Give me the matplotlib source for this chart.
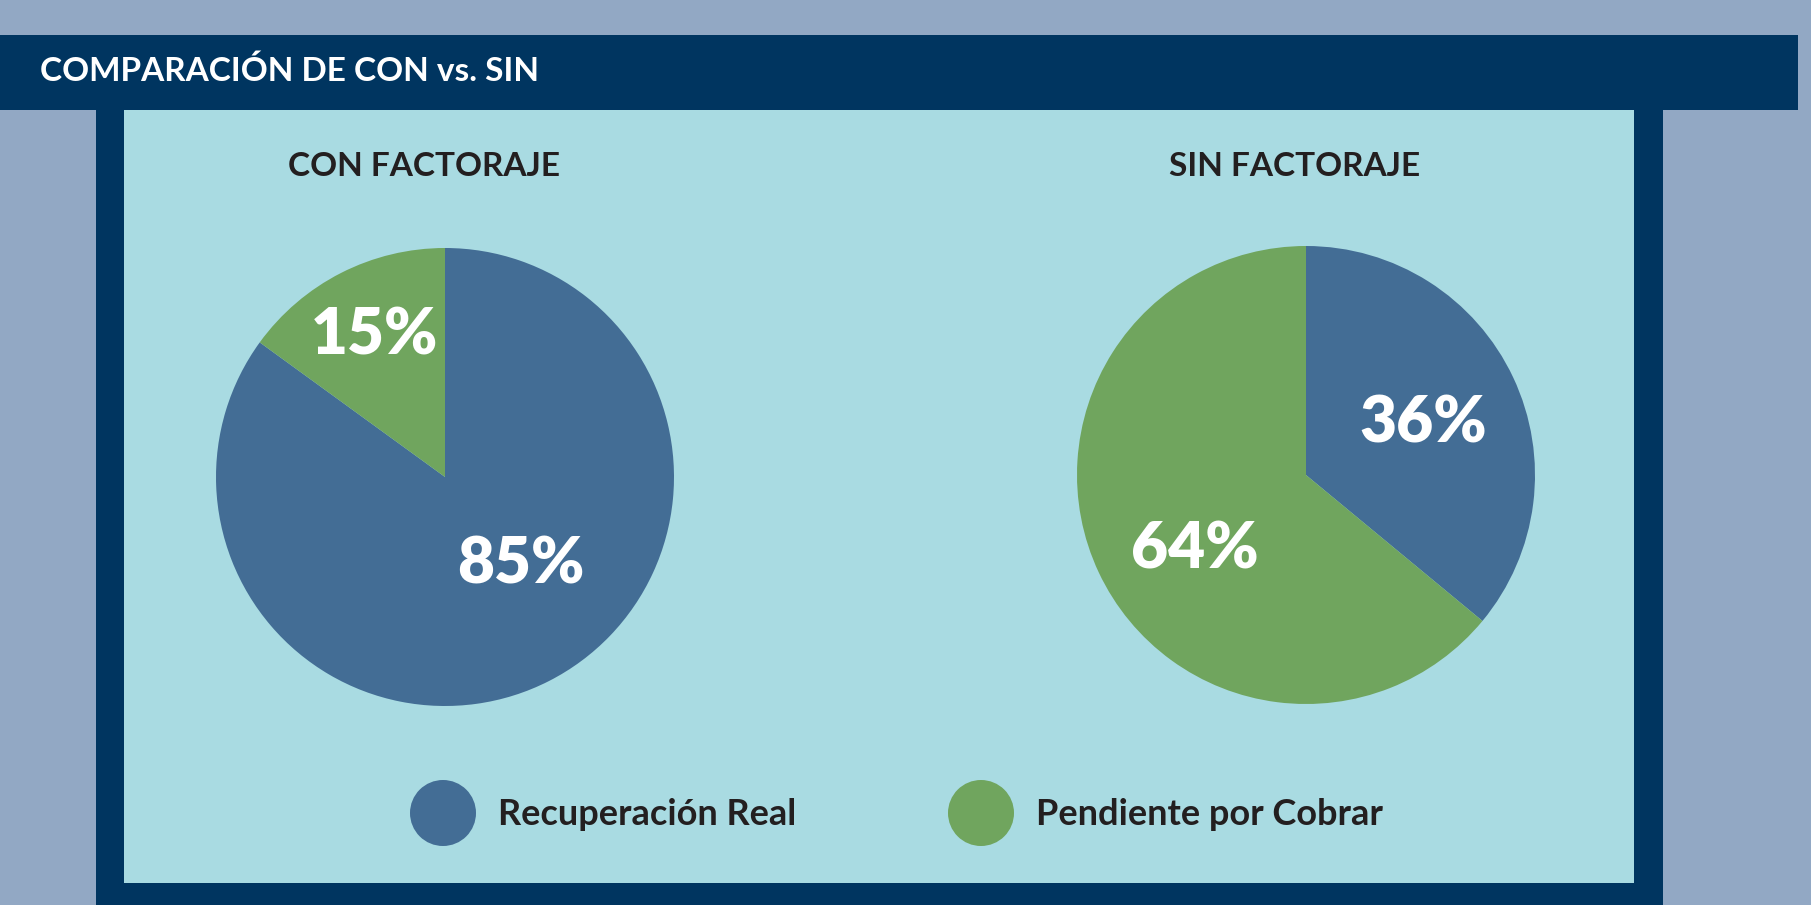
import matplotlib
matplotlib.use("Agg")
from matplotlib import pyplot as plt
from matplotlib.patches import Rectangle, Circle

# data
categories = ["Recuperación Real", "Pendiente por Cobrar"]
con_factoraje = [85, 15]
sin_factoraje = [36, 64]
pie_titles = ["CON FACTORAJE", "SIN FACTORAJE"]
header = "COMPARACIÓN DE CON vs. SIN"

colors = ["#436D95", "#70A55E"]
navy = "#003560"
bg = "#92A8C4"
panel = "#A9DBE2"
dark = "#231F20"

plt.rcParams['font.family'] = ['Lato', 'DejaVu Sans']

W, H = 1811, 905
fig = plt.figure(figsize=(W / 100, H / 100), dpi=100)
fig.patch.set_facecolor(bg)

# pixel-coordinate overlay for frame, header and legend
base = fig.add_axes([0, 0, 1, 1])
base.set_xlim(0, W)
base.set_ylim(H, 0)
base.axis('off')
base.add_patch(Rectangle((96, 35), 1663 - 96, H - 35, color=navy, lw=0))
base.add_patch(Rectangle((0, 35), 1798, 75, color=navy, lw=0))
base.add_patch(Rectangle((124, 110), 1634 - 124, 883 - 110, color=panel, lw=0))
base.text(40, 71, header, color="white", fontsize=24, fontweight="bold",
          va="center", ha="left")

# legend
leg_x = [443, 981]
for i, name in enumerate(categories):
    base.add_patch(Circle((leg_x[i], 813), 33, color=colors[i], lw=0))
    base.text(leg_x[i] + 55, 814, name, color=dark, fontsize=26,
              fontweight="bold", va="center", ha="left")

# pies (label spots as in the original, in radius units)
label_spots = [[(0.332, -0.384), (-0.306, 0.616)],
               [(0.51, 0.223), (-0.485, -0.328)]]
centers = [(445, 477), (1306, 475)]
r = 229
title_x = [424, 1295]
for i, vals in enumerate([con_factoraje, sin_factoraje]):
    cx, cy = centers[i]
    ax = fig.add_axes([(cx - r) / W, 1 - (cy + r) / H, 2 * r / W, 2 * r / H])
    wedges, texts, autotexts = ax.pie(vals, colors=colors, startangle=90,
                                      counterclock=False, autopct='%d%%',
                                      wedgeprops=dict(linewidth=0),
                                      textprops=dict(color="white", fontsize=46,
                                                     fontweight="heavy"))
    for t, pos in zip(autotexts, label_spots[i]):
        t.set_position(pos)
    ax.set_xlim(-1, 1)
    ax.set_ylim(-1, 1)
    ax.set_aspect('equal')
    base.text(title_x[i], 166, pie_titles[i], color=dark, fontsize=24,
              fontweight="bold", ha="center", va="center")

plt.savefig("out.png", dpi=100, facecolor=bg)
